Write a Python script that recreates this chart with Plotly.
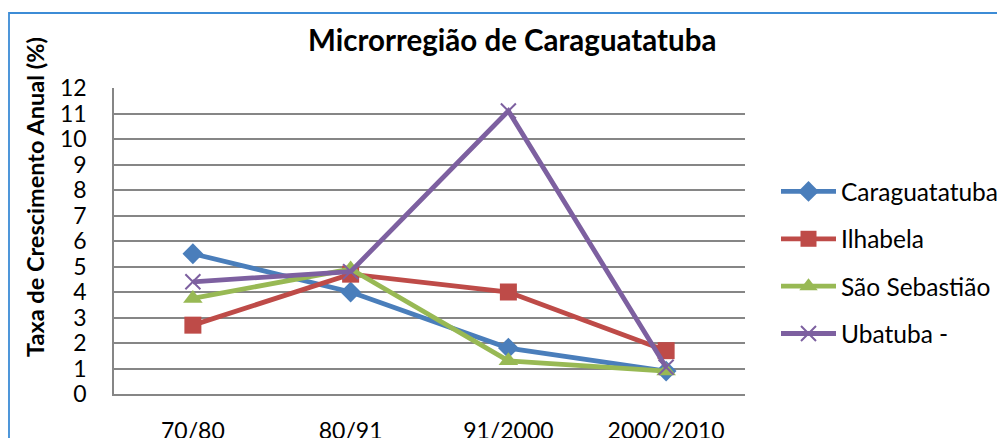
import plotly.graph_objects as go

categories = ["70/80", "80/91", "91/2000", "2000/2010"]
caraguatatuba = [5.5, 4.0, 1.8, 0.9]
ilhabela = [2.7, 4.7, 4.0, 1.7]
sao_sebastiao = [3.75, 4.9, 1.3, 0.9]
ubatuba = [4.4, 4.8, 11.1, 1.05]
y_ticks = list(range(0, 13))

series = [
    ("Caraguatatuba", caraguatatuba, "#4A7EBB", "diamond", 16, 0),
    ("Ilhabela", ilhabela, "#BE4B48", "square", 17, 0),
    ("São Sebastião", sao_sebastiao, "#98B954", "triangle-up", 17, 0),
    ("Ubatuba -", ubatuba, "#7D60A0", "x-thin", 15, 2),
]

FONT = "Lato"
W, H = 997, 438
L, R, T, B = 114, 745, 88, 394

fig = go.Figure()
for i, (name, vals, col, sym, size, lw) in enumerate(series):
    fig.add_trace(go.Scatter(
        x=categories, y=vals, name=name, mode="lines+markers",
        legendgroup=f"g{i}",
        line=dict(color=col, width=4.8),
        marker=dict(symbol=sym, size=size, color=col,
                    line=dict(color=col, width=lw)),
    ))

def px(x):
    return (x - L) / (R - L)

def py(y):
    return (B - y) / (B - T)

fig.update_layout(
    width=W, height=H,
    margin=dict(l=L, r=W - R, t=T, b=H - B, autoexpand=False),
    paper_bgcolor="white", plot_bgcolor="white",
    font=dict(family=FONT, size=23, color="black"),
    showlegend=True,
    legend=dict(x=px(776), y=py(169), xanchor="left", yanchor="top",
                font=dict(size=24.5), tracegroupgap=12.5, itemwidth=55,
                bgcolor="rgba(0,0,0,0)"),
    xaxis=dict(type="category", range=[-0.5, 3.5], showgrid=False,
               automargin=False,
               showline=True, linecolor="#868686", linewidth=1.5,
               ticks="outside", ticklen=16, tickcolor="rgba(0,0,0,0)",
               tickfont=dict(size=23), zeroline=False),
    yaxis=dict(range=[0, 12], tickvals=y_ticks, showgrid=True,
               automargin=False,
               gridcolor="#868686", gridwidth=1.5,
               showline=True, linecolor="#868686", linewidth=1.5,
               ticks="outside", ticklen=21, tickcolor="rgba(0,0,0,0)",
               tickfont=dict(size=23), zeroline=False),
    annotations=[
        dict(text="<b>Microrregião de Caraguatatuba</b>", xref="paper", yref="paper",
             x=px(512), y=py(40), showarrow=False, font=dict(size=29.5),
             xanchor="center", yanchor="middle"),
        dict(text="<b>Taxa de Crescimento Anual (%)</b>", xref="paper", yref="paper",
             x=px(35), y=py(197), showarrow=False, font=dict(size=23.5),
             textangle=-90, xanchor="center", yanchor="middle"),
    ],
    shapes=[
        dict(type="rect", xref="paper", yref="paper",
             x0=px(9), y0=py(460), x1=px(1010), y1=py(13),
             line=dict(color="#3C8CD6", width=1.8), fillcolor="rgba(0,0,0,0)",
             layer="below"),
    ],
)

fig.write_html("out.html", config={"displayModeBar": False},
               post_script="document.body.style.margin='0';document.body.style.padding='0';")
